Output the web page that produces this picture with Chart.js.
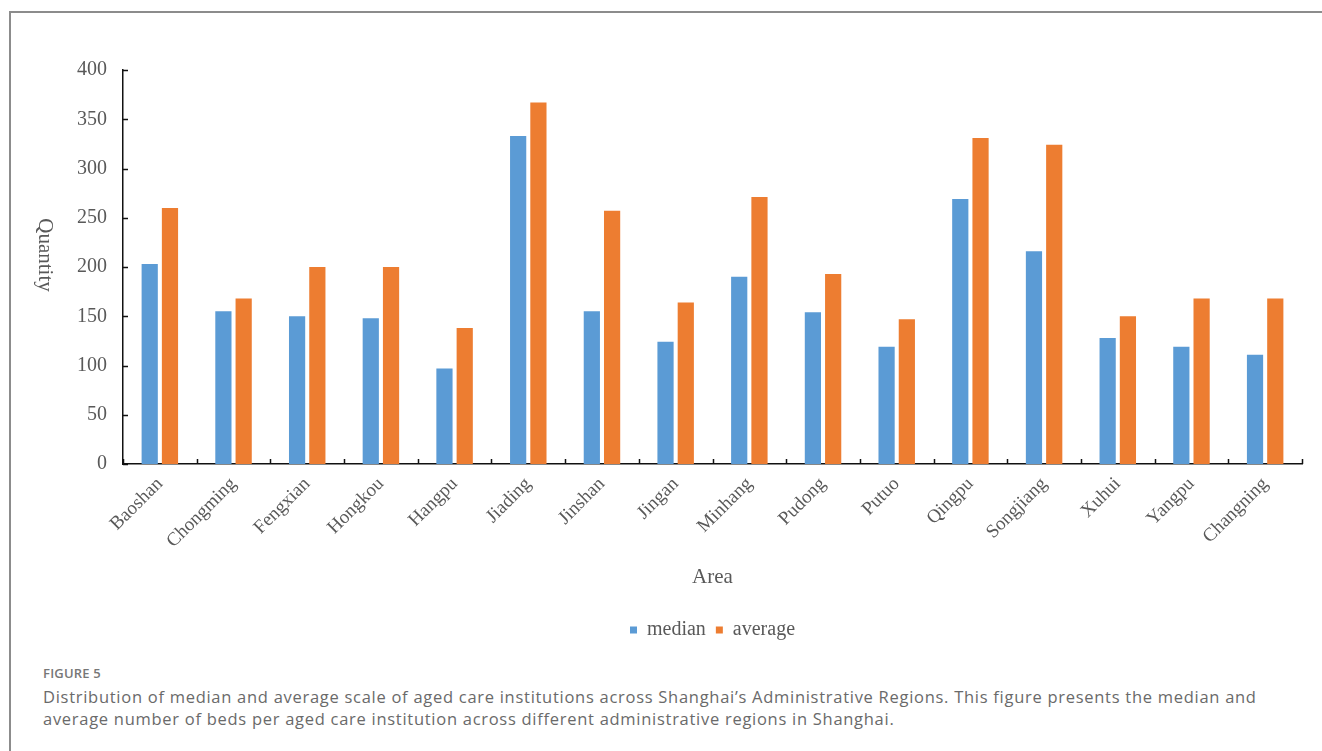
<!DOCTYPE html>
<html>
<head>
<meta charset="utf-8">
<script src="https://cdn.jsdelivr.net/npm/chart.js@4.4.1/dist/chart.umd.min.js"></script>
<style>
    html, body { margin: 0; padding: 0; background: #fff; }
    body { width: 1322px; height: 751px; position: relative; overflow: hidden; }
    .frame {
        position: absolute; left: 9px; top: 11px; width: 1330px; height: 760px;
        border-left: 2px solid #8c8c8c; border-top: 2px solid #8c8c8c;
    }
    #chart { position: absolute; left: 0; top: 0; }
    .caption {
        position: absolute; left: 43px; top: 660px; width: 1275px;
        font-family: "Open Sans", sans-serif; color: #6a6a6a;
    }
    .caption .label { font-size: 13px; font-weight: 600; color: #777; letter-spacing: 0.2px; line-height: 26px; }
    .caption .text { font-size: 16.5px; letter-spacing: 0.72px; line-height: 22px; white-space: nowrap; }
</style>
</head>
<body>
<div class="frame"></div>
<canvas id="chart" width="1322" height="660"></canvas>
<div class="caption">
    <div class="label">FIGURE 5</div>
    <div class="text">Distribution of median and average scale of aged care institutions across Shanghai’s Administrative Regions. This figure presents the median and<br>average number of beds per aged care institution across different administrative regions in Shanghai.</div>
</div>
<script>
const areas = ['Baoshan', 'Chongming', 'Fengxian', 'Hongkou', 'Hangpu', 'Jiading', 'Jinshan', 'Jingan',
    'Minhang', 'Pudong', 'Putuo', 'Qingpu', 'Songjiang', 'Xuhui', 'Yangpu', 'Changning'];
const medianBeds = [203, 155, 150, 148, 97, 333, 155, 124, 190, 154, 119, 269, 216, 128, 119, 111];
const averageBeds = [260, 168, 200, 200, 138, 367, 257, 164, 271, 193, 147, 331, 324, 150, 168, 168];
const yTicks = [0, 50, 100, 150, 200, 250, 300, 350, 400];

const serif = '"Liberation Serif", "Times New Roman", serif';
const textGray = '#595959';

// inward tick marks + the top-to-bottom "Quantity" title
const axisExtras = {
    id: 'axisExtras',
    afterDraw(chart) {
        const { ctx, chartArea } = chart;
        const x = chart.scales.x;
        const y = chart.scales.y;
        ctx.save();
        ctx.strokeStyle = '#111';
        ctx.lineWidth = 1.5;
        ctx.beginPath();
        yTicks.forEach(v => {
            const py = Math.round(y.getPixelForValue(v)) + 0.5;
            ctx.moveTo(y.right, py);
            ctx.lineTo(y.right + 5, py);
        });
        for (let i = 0; i <= areas.length; i++) {
            const px = Math.round(x.getPixelForValue(i - 0.5)) + 0.5;
            ctx.moveTo(px, x.top);
            ctx.lineTo(px, x.top - 5);
        }
        ctx.stroke();

        ctx.translate(45, (chartArea.top + chartArea.bottom) / 2 - 12);
        ctx.rotate(Math.PI / 2);
        ctx.font = '21px ' + serif;
        ctx.fillStyle = textGray;
        ctx.textAlign = 'center';
        ctx.textBaseline = 'middle';
        ctx.fillText('Quantity', 0, 0);
        ctx.restore();
    }
};

new Chart(document.getElementById('chart'), {
    type: 'bar',
    data: {
        labels: areas,
        datasets: [
            {
                label: 'median',
                data: medianBeds,
                backgroundColor: '#5b9bd5',
                categoryPercentage: 0.55,
                barPercentage: 0.8
            },
            {
                label: 'average',
                data: averageBeds,
                backgroundColor: '#ed7d31',
                categoryPercentage: 0.55,
                barPercentage: 0.8
            }
        ]
    },
    options: {
        responsive: false,
        animation: false,
        devicePixelRatio: 1,
        layout: { padding: { top: 70, right: 20, left: 0, bottom: 10 } },
        plugins: {
            legend: {
                position: 'bottom',
                fullSize: false,
                labels: {
                    font: { family: serif, size: 20 },
                    color: textGray,
                    boxWidth: 7,
                    boxHeight: 7,
                    padding: 10
                }
            },
            tooltip: { enabled: false }
        },
        scales: {
            x: {
                grid: { display: false, drawTicks: false },
                border: { display: true, color: '#111', width: 1.5 },
                ticks: {
                    font: { family: serif, size: 19 },
                    color: textGray,
                    minRotation: 45,
                    maxRotation: 45,
                    padding: 9
                },
                title: {
                    display: true,
                    text: 'Area',
                    font: { family: serif, size: 21 },
                    color: textGray,
                    padding: { top: 0, bottom: 20 }
                },
                afterFit(scale) { scale.height = 146; }
            },
            y: {
                min: 0,
                max: 400,
                grid: { display: false, drawTicks: false },
                border: { display: true, color: '#111', width: 1.5 },
                ticks: {
                    stepSize: 50,
                    font: { family: serif, size: 20 },
                    color: textGray,
                    padding: 16
                },
                afterFit(scale) { scale.width = 123; }
            }
        }
    },
    plugins: [axisExtras]
});
</script>
</body>
</html>
